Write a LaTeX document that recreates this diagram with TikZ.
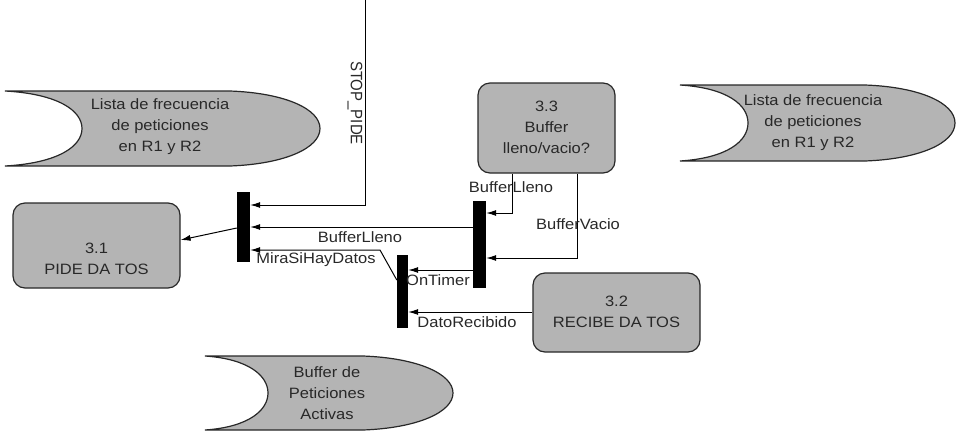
\documentclass[tikz,border=0pt]{standalone}
\usepackage{fontspec}
\setmainfont{Liberation Sans}
\usetikzlibrary{arrows.meta}

\definecolor{gris}{RGB}{180,180,180}
\definecolor{tinta}{RGB}{40,40,40}

\tikzset{
  proceso/.style={rectangle, rounded corners=12pt, draw=tinta, line width=1.2pt, fill=gris, inner sep=0pt},
  texto/.style={align=center, text=tinta, font=\fontsize{15}{21}\selectfont, xscale=1.1, inner sep=0pt},
  barra/.style={rectangle, fill=black, inner sep=0pt},
  almacen/.style={draw=tinta, line width=1.2pt, fill=gris},
  flujo/.style={draw=black, line width=1pt, -{Latex[length=10pt,width=6pt]}},
  etiq/.style={text=tinta, font=\fontsize{15}{17}\selectfont, xscale=1.1, inner sep=1pt}
}

\begin{document}
\begin{tikzpicture}[x=1pt, y=-1pt]
\useasboundingbox (0,0) rectangle (957,434);

% almacenes
\foreach \l/\t/\b/\d/\r in {5/91/166/77/320, 680/85/161/68/955, 205/356/430/63/453}
  \draw[almacen] (\l,\t) -- (\r-90,\t) .. controls (\r-35,\t+2) and (\r,\t+18) .. (\r,{(\t+\b)/2})
    .. controls (\r,\b-18) and (\r-35,\b-2) .. (\r-90,\b) -- (\l,\b)
    .. controls (\l+0.7*\d,\b-3) and (\l+\d,\b-20) .. (\l+\d,{(\t+\b)/2})
    .. controls (\l+\d,\t+20) and (\l+0.7*\d,\t+3) .. cycle;
\node (st1) at (160,127) [texto] {Lista de frecuencia\\de peticiones\\ en R1 y R2};
\node (st2) at (813,123) [texto] {Lista de frecuencia\\de peticiones\\ en R1 y R2};
\node (st3) at (327,393) [texto] {Buffer de\\Peticiones\\ Activas};

% procesos
\node (p31) at (96.5,245.5) [proceso, minimum width=167, minimum height=85] {};
	\node (p31t) at (96.5,259) [texto] {3.1\\PIDE DA TOS};
\node (p33) at (546.5,128) [proceso, minimum width=137, minimum height=90] {};
	\node (p33t) at (546.5,127) [texto] {3.3\\Buffer\\lleno/vacio?};
\node (p32) at (616.5,312.5) [proceso, minimum width=167, minimum height=79] {};
	\node (p32t) at (616.5,312) [texto] {3.2\\RECIBE DA TOS};

% barras de sincronizacion
\node (barA) at (243.5,227) [barra, minimum width=13, minimum height=70] {};
\node (barB) at (479.5,244.5) [barra, minimum width=13, minimum height=87] {};
\node (barC) at (402.5,291.5) [barra, minimum width=11, minimum height=73] {};

% flujos
\coordinate (stop) at (365,0);
\draw[flujo] (stop) |- (barA.east |- 0,205);
	\node (lstop) at (355,103) [etiq, rotate=-90] {STOP\_PIDE};
\draw[flujo] (barA.west |- 0,228) -- (p31.east |- 0,240);
\draw[flujo] (barB.west |- 0,227) -- (barA.east |- 0,227);
	\node (lfull) at (360,237) [etiq] {BufferLleno};
\draw[flujo] (barC.west |- 0,280) -- (380,250) -- (barA.east |- 0,250);
	\node (lmira) at (316,260) [etiq] {MiraSiHayDatos};
\draw[flujo] (barB.west |- 0,270) -- (barC.east |- 0,270);
	\node (ltimer) at (438,280) [etiq] {OnTimer};
\draw[flujo] (p32.west |- 0,312) -- (barC.east |- 0,312);
	\node (ldato) at (467,322) [etiq] {DatoRecibido};
\draw[flujo] (p33.south -| 512,0) |- (barB.east |- 0,213);
	\node (lfull2) at (511,187) [etiq] {BufferLleno};
\draw[flujo] (p33.south -| 577,0) |- (barB.east |- 0,258);
	\node (lvacio) at (578,224) [etiq] {BufferVacio};
\end{tikzpicture}
\end{document}
